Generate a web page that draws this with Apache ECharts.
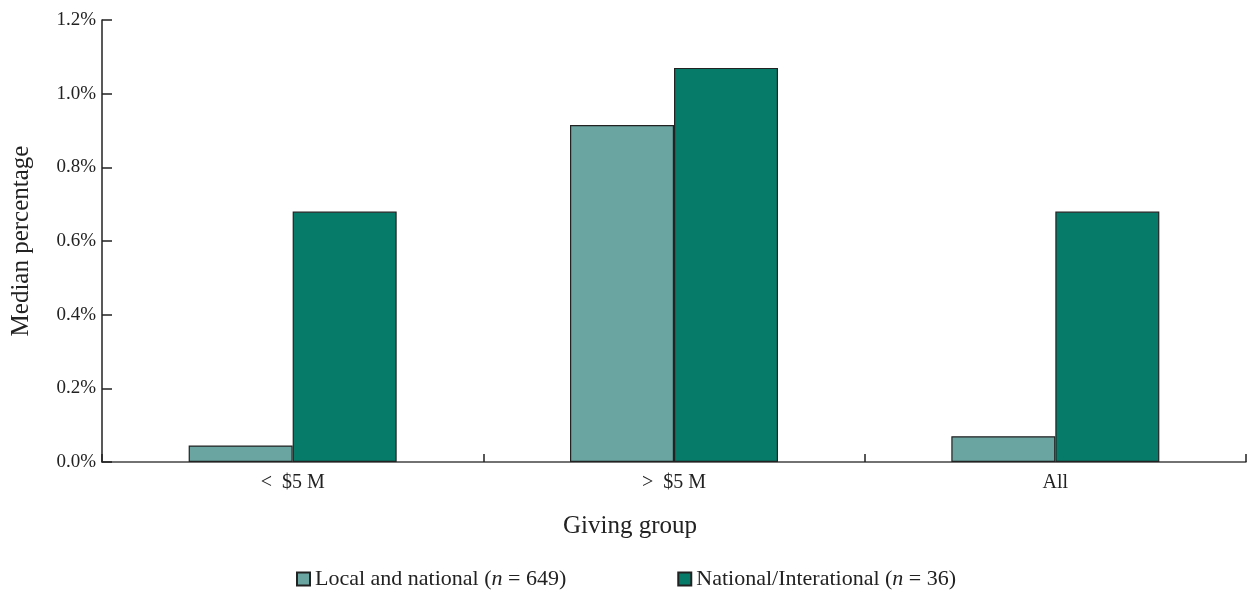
<!DOCTYPE html>
<html>
<head>
<meta charset="utf-8">
<script src="https://cdn.jsdelivr.net/npm/echarts@6/dist/echarts.min.js"></script>
<style>html,body{margin:0;padding:0;background:#fff}#c{width:1247px;height:590px}</style>
</head>
<body>
<div id="c"></div>
<script>
const categories = ['<  $5 M', '>  $5 M', 'All'];
const localNational = [0.045, 0.915, 0.07];
const nationalInternational = [0.68, 1.07, 0.68];
const seriesNames = ['Local and national', 'National/Interational'];
const seriesN = [649, 36];
const yTicks = [0, 0.2, 0.4, 0.6, 0.8, 1.0, 1.2];

const FONT = 'Liberation Serif';
const chart = echarts.init(document.getElementById('c'));
chart.setOption({
  animation: false,
  textStyle: { fontFamily: FONT },
  grid: { left: 102, right: 1, top: 20, bottom: 128 },
  legend: {
    bottom: -5,
    left: 291,
    itemGap: 111,
    itemWidth: 13,
    itemHeight: 13,
    icon: 'rect',
    data: seriesNames,
    formatter: function (name) {
      const i = seriesNames.indexOf(name);
      return '{a|' + name + ' (}{i|n}{a| = ' + seriesN[i] + ')}';
    },
    textStyle: {
      fontFamily: FONT, fontSize: 22, color: '#222',
      rich: {
        a: { fontFamily: FONT, fontSize: 22, color: '#222' },
        i: { fontFamily: FONT, fontSize: 22, color: '#222', fontStyle: 'italic' }
      }
    }
  },
  graphic: [{
    type: 'text', left: 563, top: 514,
    style: { text: 'Giving group', font: '25px "Liberation Serif"', fill: '#222' }
  }],
  xAxis: {
    type: 'category',
    data: categories,
    axisLine: { lineStyle: { color: '#444', width: 1.5 } },
    axisTick: { show: true, inside: true, length: 8, lineStyle: { color: '#222', width: 1.5 } },
    axisLabel: { fontFamily: FONT, fontSize: 20, color: '#222', margin: 11 }
  },
  yAxis: {
    type: 'value',
    min: 0, max: 1.2, interval: 0.2,
    name: 'Median percentage',
    nameLocation: 'middle',
    nameGap: 68,
    nameTextStyle: { fontFamily: FONT, fontSize: 25, color: '#222' },
    axisLine: { show: true, lineStyle: { color: '#222', width: 1.5 } },
    axisTick: { show: true, inside: true, length: 10, lineStyle: { color: '#222', width: 1.5 } },
    splitLine: { show: false },
    axisLabel: {
      fontFamily: FONT, fontSize: 19, color: '#222', margin: 6,
      formatter: v => {
        const t = yTicks.find(x => Math.abs(x - v) < 1e-9);
        return (t !== undefined ? t : v).toFixed(1) + '%';
      }
    }
  },
  series: [
    {
      name: seriesNames[0], type: 'bar', data: localNational,
      barWidth: 104, barGap: '0%',
      itemStyle: { color: '#6aa5a2', borderColor: '#222', borderWidth: 1.2 }
    },
    {
      name: seriesNames[1], type: 'bar', data: nationalInternational,
      barWidth: 104, barGap: '0%',
      itemStyle: { color: '#077b69', borderColor: '#222', borderWidth: 1.2 }
    }
  ]
});
</script>
</body>
</html>
